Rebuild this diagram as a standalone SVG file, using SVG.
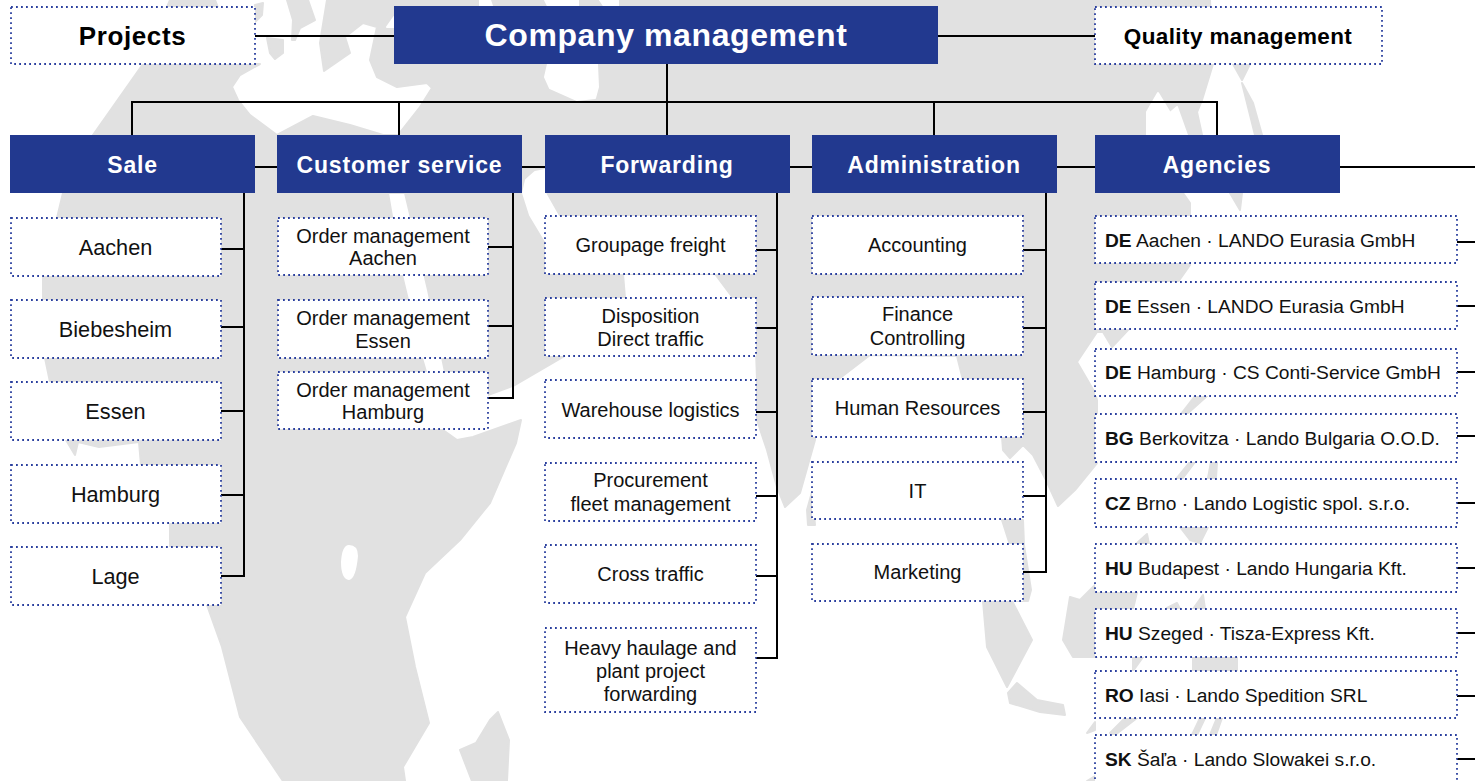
<svg xmlns="http://www.w3.org/2000/svg" width="1475" height="781" viewBox="0 0 1475 781">
<style>
text{font-family:"Liberation Sans",Arial,sans-serif;fill:#111}
.land{fill:#e1e1e1;stroke:#e1e1e1;stroke-width:2;stroke-linejoin:round}
.sea{fill:#fff;stroke:#fff;stroke-width:2;stroke-linejoin:round}
.h{fill:#22398f}
.d{fill:#fff;stroke:#2a3f9e;stroke-width:1.800;stroke-dasharray:1.800 3.200}
.ht{fill:#fff;font-weight:700;font-size:23px;letter-spacing:.8px;text-anchor:middle}
.t{font-size:20px;text-anchor:middle}
.s{font-size:21.700px;text-anchor:middle}
.a{font-size:19.200px}
.a tspan{font-weight:700}
.b{font-weight:700;text-anchor:middle;fill:#000}
#conn path{fill:none;stroke:#000;stroke-width:2}
</style>
<g id="map">
<path class="land" d="M143 64L170 0H215L240 64ZM255 5L263 3L262 15L255 22ZM267 38L283 40L283 53L275 59L270 53ZM287 0H308L315 20L300 28L295 40L292 40L293 20ZM1233 64H1250L1242 80ZM1242 83L1253 103L1262 135H1255L1247 103ZM1230 193H1242L1240 210ZM1002 520H1023L1024 545L1031 590L1028 601H1015L1010 545ZM983 601H1012L1032 640L1007 687L987 647ZM1008 693L1017 683L1037 700L1063 705L1065 715L1040 712L1010 703ZM807 510L812 492L815 525H808ZM1073 657L1063 640L1070 597L1080 600L1097 583V577H1137V592L1133 609H1097V657ZM1177 478L1190 462H1195L1183 478ZM1208 478L1211 462H1217L1216 478ZM1137 543L1147 534L1149 544ZM1180 527H1208L1200 543L1190 540ZM1167 608L1177 603L1180 609ZM1193 609L1203 595L1205 609ZM1133 657H1143L1133 671ZM1193 657H1237V671H1193ZM1110 733L1125 718H1137L1115 735ZM1087 733L1095 722V730ZM1192 735L1200 718H1205L1197 735ZM1210 735L1217 718H1222L1216 735ZM1195 396H1207L1187 414H1181ZM1087 781L1095 776V781ZM498 712L509 740L507 781H472L460 750L476 743L490 720Z"/>
<path class="land" d="M143 64H260L240 75L232 87L238 100L250 115L277 135L313 116L350 125L383 135H398L420 107L432 88L427 83L397 87L377 77L370 60L377 27L363 23L345 37L350 53L324 71L320 43L327 0H1210L1213 64L1202 100L1197 112L1202 135L1183 193L1190 203L1190 265L1178 282L1128 330L1112 347L1103 332H1097L1077 362L1095 393L1097 400V463L1075 490L1058 506L1046 480L1033 455L1023 445L1010 458L1003 450L1002 437L963 380L957 356L870 355L840 378L815 400V440L800 493L785 507L777 487L767 450L757 420V380L756 350L733 298L715 274H623L625 298L563 357L515 385L488 395L445 372L428 290L405 193H388L402 275L422 358L443 430L457 440L473 437L521 420L516 443L490 503L460 540L425 573L405 617L415 667L429 723L403 767L405 781H283L240 717L222 647L207 605L170 547V523L141 465L139 442L99 447L78 442L75 455L66 440L50 382L45 358L43 300V275L57 218L63 193L93 135Z"/>
<path class="sea" d="M548 64H597L598 87L595 98L577 100L550 88L545 77ZM523 193L526 180L535 172L545 170V193L558 216L545 240L530 215ZM342 562Q343 546 349 546Q357 546 357 556Q355 578 349 579Q342 578 342 562ZM480 0H490L492 6H480ZM545 0H578V6H548ZM600 0H618V6H604ZM1158 93L1170 113L1177 107L1187 135H1147V112ZM387 27L394 17V27Z"/>
</g>
<g id="conn">
<path d="M255 36H394M938 36H1095M667 64V135M132 135V102H1217V135M399 102V135M934 102V135M255 167H277M522 167H545M790 167H812M1057 167H1095M1340 167H1475"/>
<path d="M244 193V576H221M221 249H244M221 327H244M221 411H244M221 495H244"/>
<path d="M513 193V398H488M488 247H513M488 326H513"/>
<path d="M777 193V658H756M756 250H777M756 328H777M756 412H777M756 496H777M756 576H777"/>
<path d="M1046 193V572H1023M1023 250H1046M1023 328H1046M1023 412H1046M1023 496H1046"/>
<path d="M1457 242H1475M1457 306H1475M1457 372H1475M1457 436H1475M1457 503H1475M1457 568H1475M1457 633H1475M1457 696H1475M1457 759H1475"/>
</g>
<g id="projects"><rect class="d" x="11" y="7" width="244" height="57"/><text class="b" x="132.500" y="45" font-size="26" letter-spacing=".6">Projects</text></g>
<g id="company"><rect class="h" x="394" y="6" width="544" height="58"/><text x="666" y="46" style="fill:#fff;font-weight:700;font-size:32px;letter-spacing:.6px;text-anchor:middle">Company management</text></g>
<g id="quality"><rect class="d" x="1095" y="7" width="287" height="57"/><text class="b" x="1238" y="44" font-size="22.500" letter-spacing=".4">Quality management</text></g>
<g id="sale"><rect class="h" x="10" y="135" width="245" height="58"/><text class="ht" x="132.500" y="173">Sale</text></g>
<g id="customer"><rect class="h" x="277" y="135" width="245" height="58"/><text class="ht" x="399.500" y="173">Customer service</text></g>
<g id="forwarding"><rect class="h" x="545" y="135" width="245" height="58"/><text class="ht" x="667" y="173">Forwarding</text></g>
<g id="administration"><rect class="h" x="812" y="135" width="245" height="58"/><text class="ht" x="934" y="173">Administration</text></g>
<g id="agencies"><rect class="h" x="1095" y="135" width="245" height="58"/><text class="ht" x="1217" y="173">Agencies</text></g>
<g id="s1"><rect class="d" x="11" y="218" width="210" height="58"/><text class="s" x="115.500" y="255">Aachen</text></g>
<g id="s2"><rect class="d" x="11" y="300" width="210" height="58"/><text class="s" x="115.500" y="337">Biebesheim</text></g>
<g id="s3"><rect class="d" x="11" y="382" width="210" height="58"/><text class="s" x="115.500" y="419">Essen</text></g>
<g id="s4"><rect class="d" x="11" y="465" width="210" height="58"/><text class="s" x="115.500" y="502">Hamburg</text></g>
<g id="s5"><rect class="d" x="11" y="547" width="210" height="58"/><text class="s" x="115.500" y="584">Lage</text></g>
<g id="c1"><rect class="d" x="278" y="218" width="210" height="57"/><text class="t" x="383" y="243">Order management</text><text class="t" x="383" y="265">Aachen</text></g>
<g id="c2"><rect class="d" x="278" y="300" width="210" height="58"/><text class="t" x="383" y="325">Order management</text><text class="t" x="383" y="348">Essen</text></g>
<g id="c3"><rect class="d" x="278" y="372" width="210" height="57"/><text class="t" x="383" y="397">Order management</text><text class="t" x="383" y="419">Hamburg</text></g>
<g id="f1"><rect class="d" x="545" y="216" width="211" height="58"/><text class="t" x="650.500" y="252">Groupage freight</text></g>
<g id="f2"><rect class="d" x="545" y="298" width="211" height="58"/><text class="t" x="650.500" y="323">Disposition</text><text class="t" x="650.500" y="346">Direct traffic</text></g>
<g id="f3"><rect class="d" x="545" y="380" width="211" height="58"/><text class="t" x="650.500" y="417">Warehouse logistics</text></g>
<g id="f4"><rect class="d" x="545" y="463" width="211" height="58"/><text class="t" x="650.500" y="487">Procurement</text><text class="t" x="650.500" y="511">fleet management</text></g>
<g id="f5"><rect class="d" x="545" y="545" width="211" height="58"/><text class="t" x="650.500" y="581">Cross traffic</text></g>
<g id="f6"><rect class="d" x="545" y="628" width="211" height="84"/><text class="t" x="650.500" y="655">Heavy haulage and</text><text class="t" x="650.500" y="678">plant project</text><text class="t" x="650.500" y="701">forwarding</text></g>
<g id="a1"><rect class="d" x="812" y="216" width="211" height="58"/><text class="t" x="917.500" y="252">Accounting</text></g>
<g id="a2"><rect class="d" x="812" y="297" width="211" height="58"/><text class="t" x="917.500" y="321">Finance</text><text class="t" x="917.500" y="345">Controlling</text></g>
<g id="a3"><rect class="d" x="812" y="379" width="211" height="58"/><text class="t" x="917.500" y="415">Human Resources</text></g>
<g id="a4"><rect class="d" x="812" y="462" width="211" height="57"/><text class="t" x="917.500" y="498">IT</text></g>
<g id="a5"><rect class="d" x="812" y="544" width="211" height="57"/><text class="t" x="917.500" y="579">Marketing</text></g>
<g id="g1"><rect class="d" x="1095" y="216" width="362" height="47"/><text class="a" x="1105" y="247"><tspan>DE</tspan> Aachen · LANDO Eurasia GmbH</text></g>
<g id="g2"><rect class="d" x="1095" y="282" width="362" height="47"/><text class="a" x="1105" y="313"><tspan>DE</tspan> Essen · LANDO Eurasia GmbH</text></g>
<g id="g3"><rect class="d" x="1095" y="349" width="362" height="47"/><text class="a" x="1105" y="379"><tspan>DE</tspan> Hamburg · CS Conti-Service GmbH</text></g>
<g id="g4"><rect class="d" x="1095" y="414" width="362" height="48"/><text class="a" x="1105" y="445"><tspan>BG</tspan> Berkovitza · Lando Bulgaria O.O.D.</text></g>
<g id="g5"><rect class="d" x="1095" y="479" width="362" height="48"/><text class="a" x="1105" y="510"><tspan>CZ</tspan> Brno · Lando Logistic spol. s.r.o.</text></g>
<g id="g6"><rect class="d" x="1095" y="544" width="362" height="48"/><text class="a" x="1105" y="575"><tspan>HU</tspan> Budapest · Lando Hungaria Kft.</text></g>
<g id="g7"><rect class="d" x="1095" y="609" width="362" height="48"/><text class="a" x="1105" y="640"><tspan>HU</tspan> Szeged · Tisza-Express Kft.</text></g>
<g id="g8"><rect class="d" x="1095" y="671" width="362" height="47"/><text class="a" x="1105" y="702"><tspan>RO</tspan> Iasi · Lando Spedition SRL</text></g>
<g id="g9"><rect class="d" x="1095" y="735" width="362" height="60"/><text class="a" x="1105" y="766"><tspan>SK</tspan> Šaľa · Lando Slowakei s.r.o.</text></g>
</svg>
